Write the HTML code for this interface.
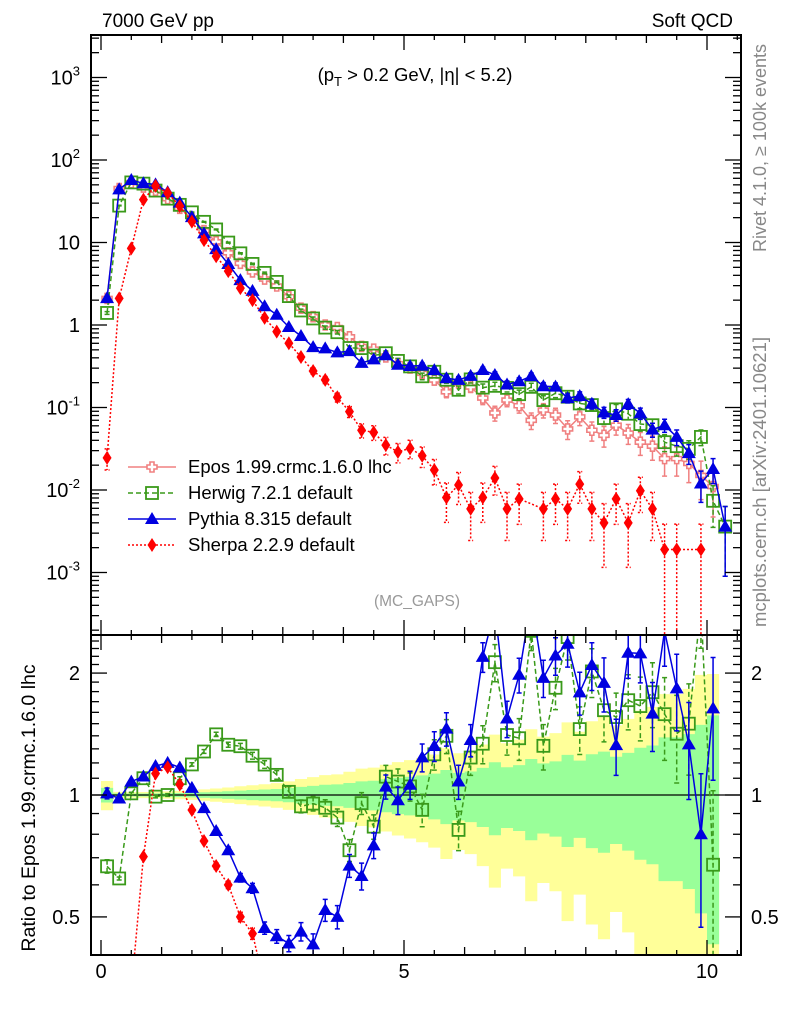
<!DOCTYPE html>
<html><head><meta charset="utf-8"><style>
html,body{margin:0;padding:0;background:#fff;overflow:hidden;width:786px;height:1024px;}
svg{display:block;font-family:"Liberation Sans",sans-serif;}
</style></head><body>
<svg id="chart" width="786" height="1024" viewBox="0 0 786 1024" overflow="hidden">
<defs>
<clipPath id="cm"><rect x="91" y="35" width="650" height="600"/></clipPath>
<clipPath id="cr"><rect x="91" y="635" width="650" height="320"/></clipPath>
</defs>
<g id="bands" clip-path="url(#cr)"></g>
<line x1="91" y1="795" x2="741" y2="795" stroke="#000" stroke-width="1.2"/>
<g id="mainmarks" clip-path="url(#cm)"></g>
<g id="ratiomarks" clip-path="url(#cr)"></g>
<g id="axes"></g>
<rect x="91" y="35" width="650" height="600" fill="none" stroke="#000" stroke-width="2"/>
<rect x="91" y="635" width="650" height="320" fill="none" stroke="#000" stroke-width="2"/>
<text x="102" y="27" font-size="19">7000 GeV pp</text>
<text x="733" y="27" font-size="19" text-anchor="end">Soft QCD</text>
<text x="415" y="81" font-size="18.5" text-anchor="middle">(p<tspan font-size="13" dy="5">T</tspan><tspan dy="-5"> &gt; 0.2 GeV, |η| &lt; 5.2)</tspan></text>
<text x="417" y="606" font-size="15.5" fill="#999" text-anchor="middle">(MC_GAPS)</text>
<text transform="translate(766,148) rotate(-90)" font-size="18" fill="#888" text-anchor="middle">Rivet 4.1.0, ≥ 100k events</text>
<text transform="translate(766,482) rotate(-90)" font-size="18.5" fill="#888" text-anchor="middle">mcplots.cern.ch [arXiv:2401.10621]</text>
<text transform="translate(35,808) rotate(-90)" font-size="19.5" text-anchor="middle">Ratio to Epos 1.99.crmc.1.6.0 lhc</text>
<g id="legend"></g>
</svg>
<script>
const binCenters=[0.1,0.3,0.5,0.7,0.9,1.1,1.3,1.5,1.7,1.9,2.1,2.3,2.5,2.7,2.9,3.1,3.3,3.5,3.7,3.9,4.1,4.3,4.5,4.7,4.9,5.1,5.3,5.5,5.7,5.9,6.1,6.3,6.5,6.7,6.9,7.1,7.3,7.5,7.7,7.9,8.1,8.3,8.5,8.7,8.9,9.1,9.3,9.5,9.7,9.9,10.1,10.3];
const eposValues=[2.1,45,53,47,43,34,26,19.5,13.9,10.2,7.5,5.6,4.4,3.6,2.97,2.2,1.6,1.26,1.0,0.93,0.72,0.55,0.51,0.41,0.34,0.30,0.26,0.215,0.155,0.2,0.177,0.13,0.086,0.123,0.105,0.07,0.093,0.081,0.055,0.077,0.053,0.046,0.061,0.049,0.038,0.034,0.024,0.024,0.021,0.015,0.011,null];
const herwigValues=[1.4,28,53.5,51.7,42.6,34,28.6,23.2,17.8,14.4,9.98,7.39,5.5,4.28,3.33,2.24,1.5,1.2,0.93,0.818,0.526,0.525,0.426,0.455,0.367,0.315,0.239,0.271,0.217,0.164,0.219,0.174,0.183,0.173,0.145,0.178,0.123,0.149,0.135,0.112,0.107,0.0745,0.095,0.084,0.063,0.061,0.038,0.034,0.0315,0.044,0.0074,0.0036];
const pythiaValues=[2.12,44.1,57.2,52.2,50.7,40.8,30.4,20.3,12.9,8.31,5.48,3.5,2.59,1.69,1.33,0.946,0.736,0.539,0.52,0.465,0.482,0.347,0.383,0.43,0.33,0.318,0.322,0.284,0.226,0.216,0.242,0.285,0.248,0.19,0.208,0.24,0.181,0.179,0.13,0.138,0.111,0.087,0.081,0.110,0.085,0.054,0.061,0.044,0.028,0.012,0.018,0.0036];
const sherpaValues=[0.0245,2.1,8.5,33.1,48.6,39.8,27.6,17.9,10.7,6.81,4.5,2.8,2.0,1.22,0.83,0.60,0.41,0.277,0.216,0.133,0.089,0.053,0.05,0.035,0.029,0.032,0.026,0.0175,0.0081,0.0115,0.0059,0.0081,0.014,0.0059,0.0078,null,0.0059,0.0078,0.0059,0.0118,0.0059,0.004,0.0078,0.004,0.0098,0.0059,0.0019,0.0019,null,0.0019,null,null];
const mainTickLabels=["10^3","10^2","10","1","10^-1","10^-2","10^-3"];
const ratioTickLabels=["2","1","0.5"];
const xTickLabels=["0","5","10"];

const NS="http://www.w3.org/2000/svg";
const X=v=>101+60.6*v;
const YM=v=>325-82.5*Math.log10(v);
const YR=r=>795-405*Math.log10(r);
function mk(tag,attrs,parent){const e=document.createElementNS(NS,tag);for(const k in attrs)e.setAttribute(k,attrs[k]);parent.appendChild(e);return e;}
const relErr=(v,c)=>c/Math.sqrt(v);

const bands=document.getElementById('bands');
function bandPath(k){let up="",lo=[];eposValues.forEach((v,i)=>{if(v==null)return;const e=Math.min(k*relErr(v,0.06),0.99);const x0=X(binCenters[i]-0.1),x1=X(binCenters[i]+0.1);up+=(up?"L":"M")+x0+","+YR(1+e)+"L"+x1+","+YR(1+e);lo.unshift("L"+x1+","+YR(1-e)+"L"+x0+","+YR(1-e));});return up+lo.join("")+"Z";}
const yb=mk('path',{d:bandPath(2),fill:'#ffff99'},bands);


const gb=mk('path',{d:bandPath(1),fill:'#99ff99'},bands);



const series=[
 {name:'epos',vals:eposValues,color:'#f08080',dash:'',marker:'cross',c:0.06,label:'Epos 1.99.crmc.1.6.0 lhc'},
 {name:'herwig',vals:herwigValues,color:'#3a9a1a',dash:'5,3',marker:'square',c:0.045,label:'Herwig 7.2.1 default'},
 {name:'pythia',vals:pythiaValues,color:'#0000e0',dash:'',marker:'triangle',c:0.045,label:'Pythia 8.315 default'},
 {name:'sherpa',vals:sherpaValues,color:'#ff0000',dash:'2,2',marker:'diamond',c:0.045,label:'Sherpa 2.2.9 default'}
];
function marker(type,x,y,color,g){
 let e;
 if(type==='cross'){const a=2,b=5;e=mk('path',{d:`M${x-a},${y-b}H${x+a}V${y-a}H${x+b}V${y+a}H${x+a}V${y+b}H${x-a}V${y+a}H${x-b}V${y-a}H${x-a}Z`,fill:'#fff',stroke:color,'stroke-width':1.6},g);}
 else if(type==='square'){e=mk('rect',{x:x-6,y:y-6,width:12,height:12,fill:'none',stroke:color,'stroke-width':1.8},g);}
 else if(type==='triangle'){e=mk('path',{d:`M${x},${y-7}L${x+7},${y+5}L${x-7},${y+5}Z`,fill:color},g);}
 else {e=mk('path',{d:`M${x},${y-7}L${x+4.5},${y}L${x},${y+7}L${x-4.5},${y}Z`,fill:color},g);}
 return e;
}
function drawSeries(s,panel){
 const isMain=panel==='main';
 const root=document.getElementById(isMain?'mainmarks':'ratiomarks');
 const g=mk('g',{},root);
 
 
 const pts=[];
 const bottom=isMain?640:960;
 s.vals.forEach((v,i)=>{
  if(v==null)return;
  let val=v;
  if(!isMain){if(s.name==='epos')return;const ev=eposValues[i];if(ev==null)return;val=v/ev;}
  const re=relErr(v,s.c);
  const Y=isMain?YM:YR;
  const x=X(binCenters[i]),y=Y(val);
  const yhi=Math.max(Y(val*(1+re)),isMain?30:630), ylo=val*(1-re)>0?Math.min(Y(val*(1-re)),bottom):bottom;
  pts.push([x,Math.max(Math.min(y,bottom+30),isMain?0:600),yhi,ylo]);
 });
 if(pts.length>1){const ln=mk('path',{d:pts.map((p,j)=>(j?'L':'M')+p[0]+','+p[1]).join(''),fill:'none',stroke:s.color,'stroke-width':1.5,'stroke-dasharray':s.dash},g);
  
  }
 pts.forEach(p=>{
  const eb=mk('path',{d:`M${p[0]},${p[2]}V${p[3]}M${p[0]-2.5},${p[2]}H${p[0]+2.5}M${p[0]-2.5},${p[3]}H${p[0]+2.5}`,stroke:s.color,'stroke-width':1.5,'stroke-dasharray':s.dash,fill:'none'},g);
  
  
  const m=marker(s.marker,p[0],p[1],s.color,g);
  
  
 });
}
series.forEach(s=>drawSeries(s,'main'));
series.forEach(s=>drawSeries(s,'ratio'));

const ax=document.getElementById('axes');
function tick(x1,y1,x2,y2,name){const t=mk('line',{x1,y1,x2,y2,stroke:'#000','stroke-width':1.3},ax);}
for(let k=0;k<=21;k++){const v=k*0.5;const x=X(v);const L=(k%10===0)?15:(k%2===0?8:5);
 tick(x,35,x,35+L,'x-tick');tick(x,635,x,635-L,'x-tick');tick(x,635,x,635+L,'x-tick');tick(x,955,x,955-L,'x-tick');}
for(let d=-4;d<=3;d++){for(let m=1;m<=9;m++){const v=m*Math.pow(10,d);const y=YM(v);if(y<36||y>634)continue;const L=m===1?16:8;tick(91,y,91+L,y,'main-y-tick');tick(741,y,741-L,y,'main-y-tick');}}
for(let k=4;k<=24;k++){const r=k/10;const y=YR(r);if(y<636||y>954)continue;const L=(k===5||k===10||k===20)?16:8;tick(91,y,91+L,y,'ratio-y-tick');tick(741,y,741-L,y,'ratio-y-tick');}
const mainTickVals=[1000,100,10,1,0.1,0.01,0.001];
mainTickLabels.forEach((lab,i)=>{const y=YM(mainTickVals[i]);const t=mk('text',{x:80,y:y+7,'font-size':20,'text-anchor':'end'},ax);
 const parts=lab.split('^');t.appendChild(document.createTextNode(parts[0]));if(parts[1]){const ts=mk('tspan',{'font-size':13,dy:-9},t);ts.textContent=parts[1];}
 });
const ratioTickVals=[2,1,0.5];
ratioTickLabels.forEach((lab,i)=>{const y=YR(ratioTickVals[i])+7;
 const t=mk('text',{x:80,y,'font-size':20,'text-anchor':'end'},ax);t.textContent=lab;
 const t2=mk('text',{x:751,y,'font-size':20},ax);t2.textContent=lab;});
const xTickVals=[0,5,10];
xTickLabels.forEach((lab,i)=>{const t=mk('text',{x:X(xTickVals[i]),y:978,'font-size':20,'text-anchor':'middle'},ax);t.textContent=lab;});

const lg=document.getElementById('legend');
series.forEach((s,i)=>{const y=467+26*i;const g=mk('g',{},lg);
 
 
 mk('line',{x1:128,y1:y,x2:176,y2:y,stroke:s.color,'stroke-width':1.5,'stroke-dasharray':s.dash},g);
 marker(s.marker,152,y,s.color,g);
 const t=mk('text',{x:188,y:y+6,'font-size':18.5},g);t.textContent=s.label;});
</script>
</body></html>
